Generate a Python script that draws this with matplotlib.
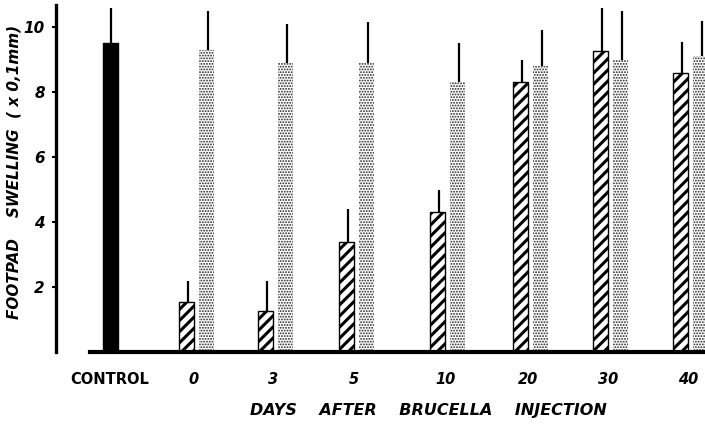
import matplotlib.pyplot as plt

# footpad swelling (x 0.1 mm)
control_mean = 9.5
control_err = 10.6

days = ["0", "3", "5", "10", "20", "30", "40"]
hatched_mean = [1.55, 1.25, 3.4, 4.3, 8.3, 9.25, 8.6]
hatched_top = [2.2, 2.2, 4.4, 5.0, 9.0, 10.6, 9.55]
dotted_mean = [9.3, 8.9, 8.9, 8.3, 8.8, 9.0, 9.1]
dotted_top = [10.5, 10.1, 10.15, 9.5, 9.9, 10.5, 10.2]

# layout in pixel units along x (figure is 705 px wide)
control_x = 110
group_x = [196, 275, 356, 447, 530, 610, 690]
bar_w = 15
px_per_unit = 32.5
base_px = 352

fig = plt.figure(figsize=(7.05, 4.24), dpi=100)
ax = fig.add_axes([0, (424 - base_px) / 424, 1, base_px / 424])
ax.set_xlim(0, 705)
ax.set_ylim(0, base_px / px_per_unit)

def ydat(py):
    return (base_px - py) / px_per_unit

# control bar
ax.bar(control_x, control_mean, width=bar_w, color="black", edgecolor="black")
ax.vlines(control_x + 1, control_mean, control_err, color="black", lw=1.6)

hx = [g - 10 for g in group_x]
dx = [g + 10 for g in group_x]

plt.rcParams["hatch.linewidth"] = 2.2
ax.bar(hx, hatched_mean, width=bar_w, facecolor="white", edgecolor="black",
       linewidth=1.0, hatch="///")
plt.rcParams["hatch.linewidth"] = 0.9
ax.bar(dx, dotted_mean, width=bar_w, facecolor="white", edgecolor="#222222",
       linewidth=0, hatch="......")

ax.vlines([x + 2 for x in hx], hatched_mean, hatched_top, color="black", lw=1.6)
ax.vlines([x + 2 for x in dx], dotted_mean, dotted_top, color="black", lw=1.6)

# axes
for s in ["top", "right"]:
    ax.spines[s].set_visible(False)
ax.spines["left"].set_position(("data", 56))
ax.spines["left"].set_bounds(0, ydat(5))
ax.spines["left"].set_linewidth(2.4)
ax.spines["bottom"].set_bounds(90, 705)
ax.spines["bottom"].set_linewidth(3)

ax.set_xticks([])
ax.set_yticks([2, 4, 6, 8, 10])
ax.set_yticklabels(["2", "4", "6", "8", "10"], fontsize=11,
                   fontweight="bold", style="italic")
ax.tick_params(axis="y", length=3, width=1.5, pad=5)

fnt = dict(fontsize=10.5, fontweight="bold", ha="center", va="center",
           clip_on=False)
ax.text(control_x, ydat(380), "CONTROL", **fnt)
for g, d in zip(group_x, days):
    ax.text(g - 2, ydat(380), d, style="italic", **fnt)
ax.text(428, ydat(411), "DAYS    AFTER    BRUCELLA    INJECTION", style="italic",
        fontsize=11.5, fontweight="bold", ha="center", va="center", clip_on=False)
ax.text(14, ydat(172), "FOOTPAD    SWELLING  ( x 0,1mm)", rotation=90,
        style="italic", fontsize=11, fontweight="bold", ha="center",
        va="center", clip_on=False)

fig.savefig("out.png", dpi=100)
